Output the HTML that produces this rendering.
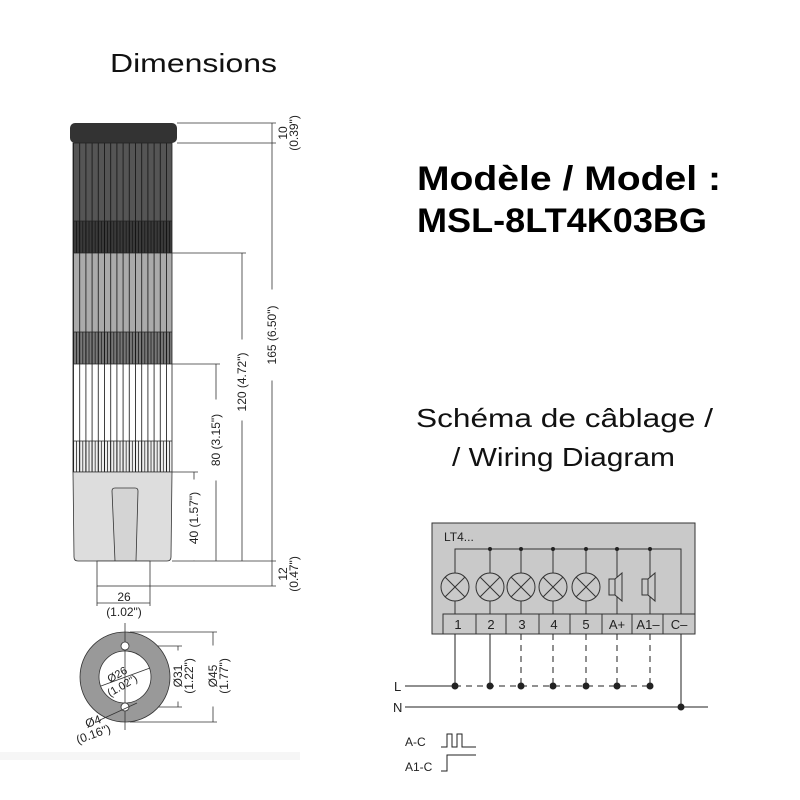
<!DOCTYPE html>
<html><head><style>html,body{margin:0;padding:0;background:#fff}svg{display:block}</style></head><body>
<svg width="800" height="800" viewBox="0 0 800 800" xmlns="http://www.w3.org/2000/svg" font-family="Liberation Sans, sans-serif">
<defs>
<pattern id="st" x="73" y="0" width="6.2" height="10" patternUnits="userSpaceOnUse"><line x1="0.5" y1="0" x2="0.5" y2="10" stroke="#111" stroke-width="0.8"/></pattern>
<pattern id="st2" x="73" y="0" width="3.1" height="10" patternUnits="userSpaceOnUse"><line x1="0.5" y1="0" x2="0.5" y2="10" stroke="#111" stroke-width="0.7"/></pattern>
</defs>
<text x="110" y="72" font-size="26" fill="#111" textLength="167" lengthAdjust="spacingAndGlyphs">Dimensions</text>
<text x="417" y="190" font-size="34" font-weight="bold" textLength="304" lengthAdjust="spacingAndGlyphs">Modèle / Model :</text>
<text x="417" y="232" font-size="34" font-weight="bold" textLength="290" lengthAdjust="spacingAndGlyphs">MSL-8LT4K03BG</text>
<text x="416" y="427" font-size="26" fill="#111" textLength="297" lengthAdjust="spacingAndGlyphs">Schéma de câblage /</text>
<text x="452" y="466" font-size="26" fill="#111" textLength="223" lengthAdjust="spacingAndGlyphs">/ Wiring Diagram</text>

<!-- tower -->
<rect x="70" y="123" width="107" height="20" rx="5" fill="#333"/>
<rect x="73" y="143" width="99" height="78" fill="#555"/>
<rect x="73" y="221" width="99" height="32" fill="#3a3a3a"/>
<rect x="73" y="253" width="99" height="79" fill="#aaa"/>
<rect x="73" y="332" width="99" height="32" fill="#777"/>
<rect x="73" y="364" width="99" height="77" fill="#fff"/>
<rect x="73" y="441" width="99" height="31" fill="#eee"/>
<rect x="73" y="143" width="99" height="329" fill="url(#st)"/>
<rect x="73" y="221" width="99" height="32" fill="url(#st2)"/>
<rect x="73" y="332" width="99" height="32" fill="url(#st2)"/>
<rect x="73" y="441" width="99" height="31" fill="url(#st2)"/>
<g stroke="#222" stroke-width="0.8" fill="none"><line x1="73" y1="221" x2="172" y2="221"/><line x1="73" y1="253" x2="172" y2="253"/><line x1="73" y1="332" x2="172" y2="332"/><line x1="73" y1="364" x2="172" y2="364"/><line x1="73" y1="441" x2="172" y2="441"/><rect x="73" y="143" width="99" height="329"/></g>
<path d="M73 472 H172 L171 557 Q171 561 167 561 H78 Q74 561 74 557 Z" fill="#ddd" stroke="#333" stroke-width="0.8"/>
<path d="M112 491 Q112 488 115 488 H135 Q138 488 138 491 L136 561 H115 Z" fill="#d4d4d4" stroke="#333" stroke-width="0.8"/>
<rect x="97" y="561" width="53" height="25" fill="#fff" stroke="#333" stroke-width="0.8"/>

<!-- dims -->
<g stroke="#333" stroke-width="0.8" fill="none">
<line x1="177" y1="123" x2="276" y2="123"/><line x1="177" y1="143" x2="276" y2="143"/>
<line x1="172" y1="253" x2="246" y2="253"/><line x1="172" y1="364" x2="220" y2="364"/><line x1="172" y1="472" x2="198" y2="472"/>
<line x1="172" y1="561" x2="276" y2="561"/><line x1="150" y1="586" x2="276" y2="586"/>
<line x1="272" y1="123" x2="272" y2="586"/>
<line x1="242" y1="253" x2="242" y2="561"/>
<line x1="216" y1="364" x2="216" y2="561"/>
<line x1="194" y1="472" x2="194" y2="561"/>
<line x1="97" y1="586" x2="97" y2="606"/><line x1="150" y1="586" x2="150" y2="606"/><line x1="97" y1="603" x2="150" y2="603"/>
<line x1="127" y1="646" x2="182" y2="646"/><line x1="127" y1="707" x2="182" y2="707"/><line x1="178" y1="646" x2="178" y2="707"/>
<line x1="130" y1="632" x2="217" y2="632"/><line x1="130" y1="722" x2="217" y2="722"/><line x1="213" y1="632" x2="213" y2="722"/>
</g>
<g fill="#fff" stroke="#fff">
<rect x="265" y="290" width="14" height="90"/><rect x="235" y="340" width="14" height="80"/><rect x="209" y="400" width="14" height="80"/><rect x="187" y="480" width="14" height="80"/>
<rect x="171" y="651" width="14" height="50"/><rect x="206" y="646" width="14" height="60"/>
</g>
<g font-size="12" fill="#222">
<text transform="translate(276,335) rotate(-90)" text-anchor="middle">165 (6.50")</text>
<text transform="translate(246,382) rotate(-90)" text-anchor="middle">120 (4.72")</text>
<text transform="translate(220,440) rotate(-90)" text-anchor="middle">80 (3.15")</text>
<text transform="translate(198,518) rotate(-90)" text-anchor="middle">40 (1.57")</text>
<text transform="translate(287,133) rotate(-90)" text-anchor="middle">10</text>
<text transform="translate(298,133) rotate(-90)" text-anchor="middle">(0.39")</text>
<text transform="translate(287,574) rotate(-90)" text-anchor="middle">12</text>
<text transform="translate(298,574) rotate(-90)" text-anchor="middle">(0.47")</text>
<text x="124" y="601" text-anchor="middle">26</text>
<text x="124" y="616" text-anchor="middle">(1.02")</text>
<text transform="translate(182,676) rotate(-90)" text-anchor="middle">Ø31</text>
<text transform="translate(193,676) rotate(-90)" text-anchor="middle">(1.22")</text>
<text transform="translate(217,676) rotate(-90)" text-anchor="middle">Ø45</text>
<text transform="translate(228,676) rotate(-90)" text-anchor="middle">(1.77")</text>
<text transform="translate(87,728) rotate(-20)">Ø4</text>
<text transform="translate(78,744) rotate(-20)">(0.16")</text>
</g>
<circle cx="125" cy="677" r="45" fill="#999" stroke="#333" stroke-width="0.8"/>
<circle cx="125" cy="677" r="26" fill="#fff" stroke="#333" stroke-width="0.8"/>
<line x1="125" y1="623" x2="125" y2="730" stroke="#333" stroke-width="0.8"/>
<circle cx="125" cy="646" r="4" fill="#fff" stroke="#333" stroke-width="0.8"/>
<circle cx="125" cy="707" r="4" fill="#fff" stroke="#333" stroke-width="0.8"/>
<line x1="101" y1="686" x2="150" y2="668" stroke="#333" stroke-width="0.8"/>
<line x1="100" y1="720" x2="137" y2="703" stroke="#333" stroke-width="0.8"/>
<g font-size="11" fill="#222"><text transform="translate(110,683) rotate(-30)">Ø26</text><text transform="translate(110,697) rotate(-30)">(1.02")</text></g>
<rect x="0" y="752" width="300" height="8" fill="#f6f6f6"/>

<!-- wiring -->
<rect x="432" y="523" width="263" height="111" fill="#c9c9c9" stroke="#333" stroke-width="1"/>
<text x="444" y="541" font-size="12" fill="#222">LT4...</text>
<rect x="443" y="614" width="252" height="20" fill="#c9c9c9" stroke="#333" stroke-width="1"/>
<g stroke="#333" stroke-width="1" fill="none">
<line x1="476" y1="614" x2="476" y2="634"/><line x1="506" y1="614" x2="506" y2="634"/><line x1="539" y1="614" x2="539" y2="634"/><line x1="570" y1="614" x2="570" y2="634"/><line x1="602" y1="614" x2="602" y2="634"/><line x1="632" y1="614" x2="632" y2="634"/><line x1="663" y1="614" x2="663" y2="634"/>
<polyline points="455,614 455,549 681,549 681,614"/>
<line x1="490" y1="549" x2="490" y2="614"/><line x1="521" y1="549" x2="521" y2="614"/><line x1="553" y1="549" x2="553" y2="614"/><line x1="586" y1="549" x2="586" y2="614"/><line x1="617" y1="549" x2="617" y2="614"/><line x1="650" y1="549" x2="650" y2="614"/>
</g>
<g stroke="#333" stroke-width="1" fill="#c9c9c9">
<circle cx="455" cy="587" r="14"/><circle cx="490" cy="587" r="14"/><circle cx="521" cy="587" r="14"/><circle cx="553" cy="587" r="14"/><circle cx="586" cy="587" r="14"/>
<path d="M445 577 L465 597 M465 577 L445 597 M480 577 L500 597 M500 577 L480 597 M511 577 L531 597 M531 577 L511 597 M543 577 L563 597 M563 577 L543 597 M576 577 L596 597 M596 577 L576 597" fill="none"/>
<rect x="609" y="579" width="6" height="16"/><path d="M615 579 L622 573 V601 L615 595 Z"/>
<rect x="642" y="579" width="6" height="16"/><path d="M648 579 L655 573 V601 L648 595 Z"/>
</g>
<g fill="#222"><circle cx="490" cy="549" r="2"/><circle cx="521" cy="549" r="2"/><circle cx="553" cy="549" r="2"/><circle cx="586" cy="549" r="2"/><circle cx="617" cy="549" r="2"/><circle cx="650" cy="549" r="2"/></g>
<g font-size="13" fill="#222" text-anchor="middle"><text x="458" y="629">1</text><text x="491" y="629">2</text><text x="522" y="629">3</text><text x="554" y="629">4</text><text x="586" y="629">5</text><text x="617" y="629">A+</text><text x="648" y="629">A1–</text><text x="679" y="629">C–</text></g>
<g stroke="#222" stroke-width="1" fill="none">
<line x1="455" y1="634" x2="455" y2="686"/><line x1="490" y1="634" x2="490" y2="686"/>
<g stroke-dasharray="6,5"><line x1="521" y1="634" x2="521" y2="686"/><line x1="553" y1="634" x2="553" y2="686"/><line x1="586" y1="634" x2="586" y2="686"/><line x1="617" y1="634" x2="617" y2="686"/><line x1="650" y1="634" x2="650" y2="686"/><line x1="455" y1="686" x2="650" y2="686"/></g>
<line x1="405" y1="686" x2="455" y2="686"/>
<line x1="405" y1="707" x2="708" y2="707"/>
<line x1="681" y1="634" x2="681" y2="707"/>
<polyline points="441,747 447,747 447,734 452,734 452,747 457,747 457,734 462,734 462,747 476,747"/>
<polyline points="441,771 447,771 447,755 476,755"/>
</g>
<g fill="#222"><circle cx="455" cy="686" r="3.5"/><circle cx="490" cy="686" r="3.5"/><circle cx="521" cy="686" r="3.5"/><circle cx="553" cy="686" r="3.5"/><circle cx="586" cy="686" r="3.5"/><circle cx="617" cy="686" r="3.5"/><circle cx="650" cy="686" r="3.5"/><circle cx="681" cy="707" r="3.5"/></g>
<g font-size="13" fill="#222"><text x="394" y="691">L</text><text x="393" y="712">N</text><text x="405" y="746" font-size="12">A-C</text><text x="405" y="771" font-size="12">A1-C</text></g>
</svg>
</body></html>
